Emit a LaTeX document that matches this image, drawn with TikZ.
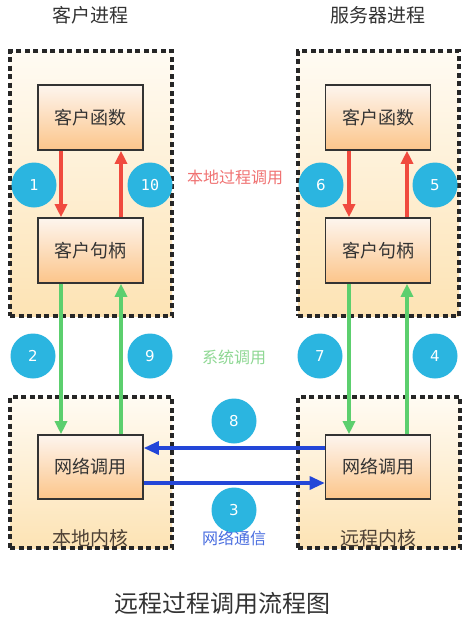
\documentclass[tikz,border=0pt]{standalone}
\usepackage{fontspec}
\setmainfont{DejaVu Sans}
\newfontfamily\cjk{Noto Sans CJK SC}
\newfontfamily\monofnt{DejaVu Sans Mono}
\usetikzlibrary{arrows.meta}
\definecolor{boxtop}{HTML}{FFFBF3}
\definecolor{boxbot}{HTML}{FDE3B4}
\definecolor{intop}{HTML}{FDF5EE}
\definecolor{inbot}{HTML}{FCC58A}
\definecolor{cyanc}{HTML}{2BB5E0}
\definecolor{redc}{HTML}{F04A3E}
\definecolor{greenc}{HTML}{5CCF6E}
\definecolor{bluec}{HTML}{2346D8}
\definecolor{redt}{HTML}{F07272}
\definecolor{greent}{HTML}{8FD894}
\definecolor{bluet}{HTML}{4A6EE0}
\definecolor{darkt}{HTML}{333333}
\tikzset{
  outerbox/.style={rectangle, draw=black!85, line width=3.4pt, dash pattern=on 5pt off 3.5pt, top color=boxtop, bottom color=boxbot, inner sep=0pt},
  innerbox/.style={rectangle, draw=darkt, line width=1.6pt, top color=intop, bottom color=inbot, minimum width=105pt, minimum height=65pt, inner sep=0pt, font=\cjk\fontsize{18}{18}\selectfont, text=darkt},
  numc/.style={circle, fill=cyanc, minimum size=45pt, inner sep=0pt, text=white, font=\fontsize{15}{15}\selectfont},
  redarr/.style={draw=redc, line width=3.2pt, -{Triangle[length=13pt,width=12pt]}},
  greenarr/.style={draw=greenc, line width=3.2pt, -{Triangle[length=13pt,width=12pt]}},
  bluearr/.style={draw=bluec, line width=3.2pt, -{Triangle[length=15pt,width=13pt]}},
  lbl/.style={font=\cjk\fontsize{16}{16}\selectfont},
  hdr/.style={font=\cjk\fontsize{19}{19}\selectfont, text=darkt},
}
\begin{document}
\begin{tikzpicture}[x=1pt,y=1pt]
\useasboundingbox (0,0) rectangle (471,-621);
\fill[white] (0,0) rectangle (471,-621);
% outer boxes
\node[outerbox, minimum width=162pt, minimum height=265pt] (lp) at (91,-183.5) {};
\node[outerbox, minimum width=161pt, minimum height=265pt] (rp) at (378.5,-183.5) {};
\node[outerbox, minimum width=162pt, minimum height=151pt] (lk) at (91,-472.5) {};
\node[outerbox, minimum width=162pt, minimum height=151pt] (rk) at (379,-472.5) {};
% inner boxes
\node[innerbox] (lf) at (90.5,-117.5) {客户函数};
\node[innerbox] (lh) at (90.5,-250.5) {客户句柄};
\node[innerbox] (rf) at (378,-117.5) {客户函数};
\node[innerbox] (rh) at (378,-250.5) {客户句柄};
\node[innerbox, minimum height=64pt] (ln) at (90.5,-467) {网络调用};
\node[innerbox, minimum height=64pt] (rn) at (378,-467) {网络调用};
% arrows
\draw[redarr] ([xshift=-29.5pt]lf.south) -- ([xshift=-29.5pt]lh.north);
\draw[redarr] ([xshift=30.5pt]lh.north) -- ([xshift=30.5pt]lf.south);
\draw[redarr] ([xshift=-29pt]rf.south) -- ([xshift=-29pt]rh.north);
\draw[redarr] ([xshift=29pt]rh.north) -- ([xshift=29pt]rf.south);
\draw[greenarr] ([xshift=-29.5pt]lh.south) -- ([xshift=-29.5pt]ln.north);
\draw[greenarr] ([xshift=30.5pt]ln.north) -- ([xshift=30.5pt]lh.south);
\draw[greenarr] ([xshift=-29pt]rh.south) -- ([xshift=-29pt]rn.north);
\draw[greenarr] ([xshift=29pt]rn.north) -- ([xshift=29pt]rh.south);
\draw[bluearr] ([yshift=19pt]rn.west) -- ([yshift=19pt]ln.east);
\draw[bluearr] ([yshift=-16pt]ln.east) -- ([yshift=-16pt]rn.west);
% numbered circles
\node[numc, font=\monofnt\fontsize{15}{15}\selectfont] (c1) at (34,-185) {1};
\node[numc, font=\monofnt\fontsize{15}{15}\selectfont] (c10) at (150,-185) {10};
\node[numc] (c6) at (321,-185) {6};
\node[numc] (c5) at (435,-185) {5};
\node[numc] (c2) at (33,-356) {2};
\node[numc] (c9) at (150,-356) {9};
\node[numc] (c7) at (320,-356) {7};
\node[numc] (c4) at (435,-356) {4};
\node[numc] (c8) at (234,-421) {8};
\node[numc] (c3) at (234,-510) {3};
% labels
\node[hdr] (t1) at (90,-15) {客户进程};
\node[hdr] (t2) at (378,-15) {服务器进程};
\node[lbl, text=redt] (l1) at (235,-177) {本地过程调用};
\node[lbl, text=greent] (l2) at (234,-357) {系统调用};
\node[lbl, text=bluet] (l3) at (234,-538) {网络通信};
\node[hdr, text=darkt!80!brown] (k1) at (90,-538) {本地内核};
\node[hdr, text=darkt!80!brown] (k2) at (378,-538) {远程内核};
\node[font=\cjk\fontsize{24}{24}\selectfont, text=darkt] (title) at (222.5,-603) {远程过程调用流程图};
\end{tikzpicture}
\end{document}
